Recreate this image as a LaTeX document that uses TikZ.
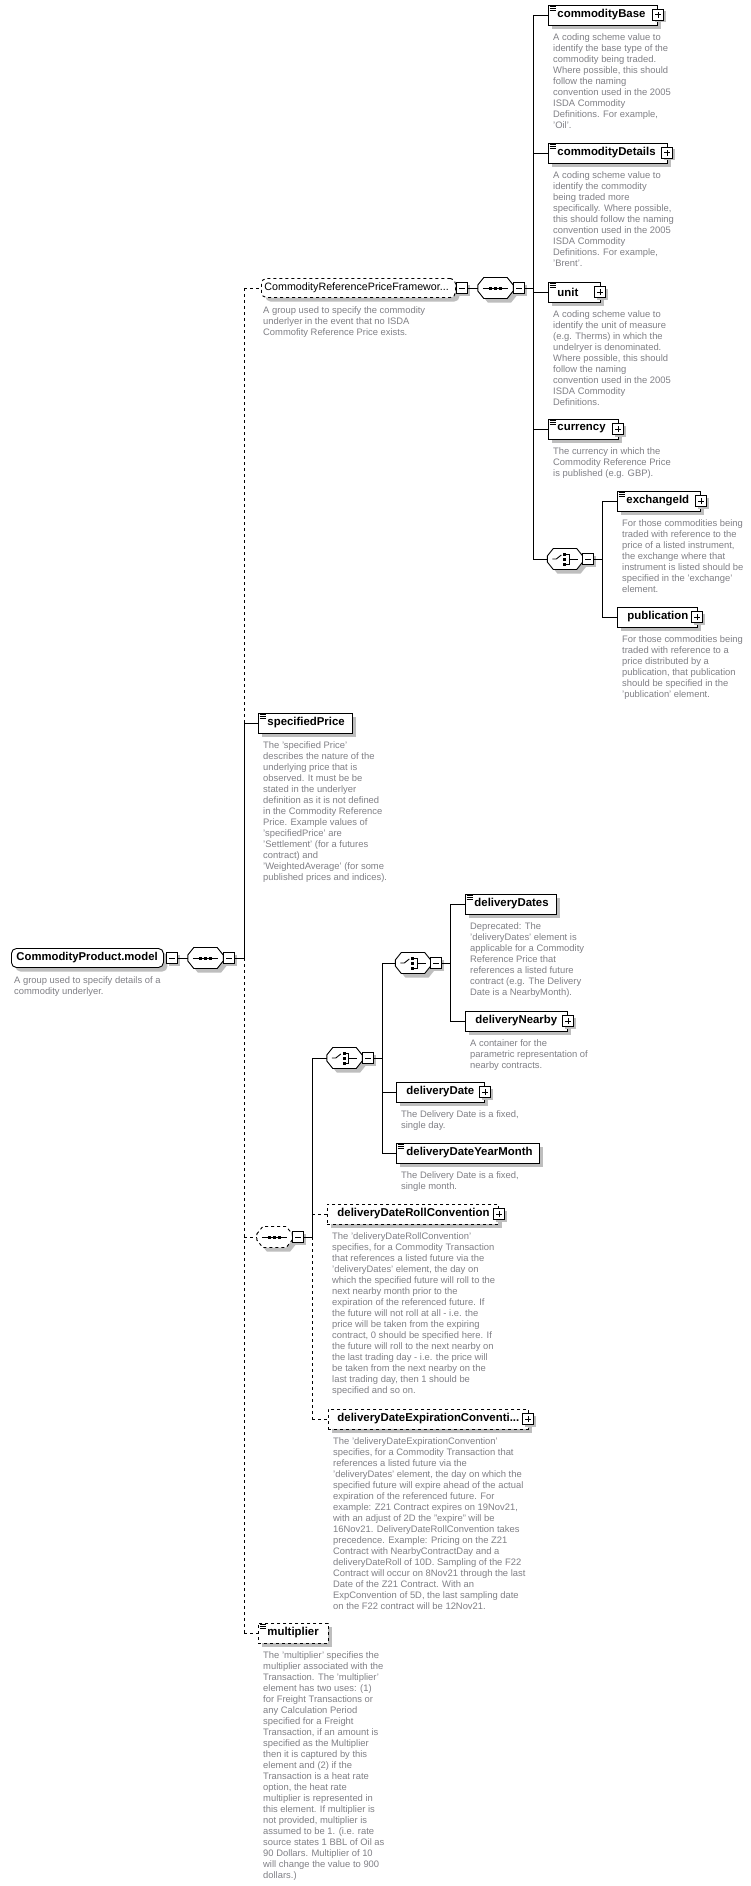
\documentclass[tikz,border=0pt]{standalone}
\usepackage{fontspec}
\setmainfont{Liberation Sans}
\usetikzlibrary{shadows}
\definecolor{desccol}{RGB}{128,128,134}
\definecolor{shadowc}{RGB}{190,190,190}
\newcommand\octdraw[2]{%
  \fill[shadowc] ([xshift=4pt,yshift=-1pt]#1.west) -- ([xshift=10pt,yshift=6.5pt]#1.west) -- ([xshift=-2pt,yshift=6.5pt]#1.east) -- ([xshift=4pt,yshift=-1pt]#1.east) -- ([xshift=4pt,yshift=-7pt]#1.east) -- ([xshift=-2pt,yshift=-14.5pt]#1.east) -- ([xshift=10pt,yshift=-14.5pt]#1.west) -- ([xshift=4pt,yshift=-7pt]#1.west) -- cycle;
  \draw[line width=0.9pt, fill=white, #2] ([yshift=3pt]#1.west) -- ([xshift=6pt,yshift=10.5pt]#1.west) -- ([xshift=-6pt,yshift=10.5pt]#1.east) -- ([yshift=3pt]#1.east) -- ([yshift=-3pt]#1.east) -- ([xshift=-6pt,yshift=-10.5pt]#1.east) -- ([xshift=6pt,yshift=-10.5pt]#1.west) -- ([yshift=-3pt]#1.west) -- cycle;}
\newcommand\seqicon[1]{%
  \draw[line width=0.9pt] ([xshift=5pt]#1.west) -- ([xshift=-5pt]#1.east);
  \foreach \dx in {-5,0,5} \fill ([xshift=\dx pt-1.5pt, yshift=-1.5pt]#1.center) rectangle ++(3pt,3pt);}
\newcommand\choiceicon[1]{%
  \draw[line width=0.9pt] ([xshift=5pt]#1.west) -- ++(4pt,0pt) -- ++(5pt,4pt);
  \foreach \dy in {-5,0,5} \fill ([xshift=16pt,yshift=\dy pt-1.5pt]#1.west) rectangle ++(3pt,3pt);
  \draw[line width=0.9pt] ([xshift=19pt,yshift=5pt]#1.west) -- ++(3pt,0pt) -- ++(0pt,-10pt) -- ++(-3pt,0pt);
  \draw[line width=0.9pt] ([xshift=22pt]#1.west) -- ([xshift=-5pt]#1.east);}
\newcommand\docicon[1]{%
  \foreach \dy in {1.5,3.5,5.5} \draw[line width=0.7pt] ([xshift=1.5pt,yshift=-\dy pt]#1.north west) -- ++(6pt,0pt);}
\tikzset{
  shd/.style={drop shadow={shadow xshift=4pt,shadow yshift=-4pt,fill=shadowc,opacity=1}},
  bshd/.style={drop shadow={shadow xshift=2pt,shadow yshift=-2pt,fill=shadowc,opacity=1}},
  elem/.style={draw, fill=white, line width=0.9pt, shd, anchor=west, minimum height=20pt,
    inner xsep=0pt, inner ysep=0pt, align=left, text width=#1,
    font=\fontsize{11.4}{13}\selectfont\bfseries},
  optelem/.style={elem=#1, dashed},
  grp/.style={draw, fill=white, line width=0.9pt, shd, anchor=west, minimum height=19pt,
    rounded corners=5pt, inner xsep=0pt, inner ysep=0pt, align=left, text width=#1,
    font=\fontsize{11.3}{13}\selectfont\bfseries},
  optgrp/.style={grp=#1, dashed, font=\fontsize{10.7}{13}\selectfont},
  octbox/.style={minimum width=35pt, minimum height=21pt, inner sep=0pt},
  btn/.style={draw, fill=white, line width=0.9pt, bshd, minimum size=11pt, inner sep=0pt},
  btnminus/.style={btn, path picture={\draw[line width=1pt]
    ([xshift=2.5pt]path picture bounding box.west) -- ([xshift=-2.5pt]path picture bounding box.east);}},
  btnplus/.style={btn, path picture={\draw[line width=1pt]
    ([xshift=2.5pt]path picture bounding box.west) -- ([xshift=-2.5pt]path picture bounding box.east)
    ([yshift=2.5pt]path picture bounding box.south) -- ([yshift=-2.5pt]path picture bounding box.north);}},
  desc/.style={anchor=north west, inner sep=0pt, align=left, text=desccol,
    font=\fontsize{9.4}{11}\selectfont, execute at begin node={\rule{0pt}{8pt}}},
  conn/.style={line width=0.9pt},
  optconn/.style={line width=0.9pt, dashed}
}
\begin{document}
\begin{tikzpicture}[x=1pt,y=-1pt]
\useasboundingbox[fill=white] (0,0) rectangle (750,1886);

% ---------- root group ----------
\node[grp=152pt] (gModel) at (11,958) {\hspace*{5pt}CommodityProduct.model};
\node[btnminus] (mModel) at (172,958) {};
\node[octbox] (sModel) at (205.5,958) {};
\octdraw{sModel}{solid}
\seqicon{sModel}
\node[btnminus] (mSModel) at (229,958) {};
\node[desc] (dModel) at (14,976.5) {A group used to specify details of a\\commodity underlyer.};

% ---------- CommodityReferencePriceFramework ----------
\node[optgrp=194pt] (gCRPF) at (261,288) {\hspace*{3pt}CommodityReferencePriceFramewor...};
\node[btnminus] (mCRPF) at (462,288) {};
\node[octbox] (sCRPF) at (495.5,288) {};
\octdraw{sCRPF}{solid}
\seqicon{sCRPF}
\node[btnminus] (mSCRPF) at (519,288) {};
\node[desc] (dCRPF) at (263,306.5) {A group used to specify the commodity\\underlyer in the event that no ISDA\\Commofity Reference Price exists.};

\node[elem=109pt] (eCB) at (548,15) {\hspace*{9pt}commodityBase};
\docicon{eCB}
\node[btnplus] (pCB) at (658,15) {};
\node[desc] (dCB) at (553,33.5) {A coding scheme value to\\identify the base type of the\\commodity being traded.\\Where possible, this should\\follow the naming\\convention used in the 2005\\ISDA Commodity\\Definitions. For example,\\'Oil'.};

\node[elem=119pt] (eCD) at (548,153) {\hspace*{9pt}commodityDetails};
\docicon{eCD}
\node[btnplus] (pCD) at (667,153) {};
\node[desc] (dCD) at (553,171.5) {A coding scheme value to\\identify the commodity\\being traded more\\specifically. Where possible,\\this should follow the naming\\convention used in the 2005\\ISDA Commodity\\Definitions. For example,\\'Brent'.};

\node[elem=52pt] (eUnit) at (548,292) {\hspace*{9pt}unit};
\docicon{eUnit}
\node[btnplus] (pUnit) at (600,292) {};
\node[desc] (dUnit) at (553,310.5) {A coding scheme value to\\identify the unit of measure\\(e.g. Therms) in which the\\undelryer is denominated.\\Where possible, this should\\follow the naming\\convention used in the 2005\\ISDA Commodity\\Definitions.};

\node[elem=70pt] (eCur) at (548,429) {\hspace*{9pt}currency};
\docicon{eCur}
\node[btnplus] (pCur) at (618,429) {};
\node[desc] (dCur) at (553,447.5) {The currency in which the\\Commodity Reference Price\\is published (e.g. GBP).};

\node[octbox] (cCRPF) at (565,559) {};
\octdraw{cCRPF}{solid}
\choiceicon{cCRPF}
\node[btnminus] (mCCRPF) at (588,559) {};

\node[elem=83pt] (eEx) at (617,501) {\hspace*{9pt}exchangeId};
\docicon{eEx}
\node[btnplus] (pEx) at (701,501) {};
\node[desc] (dEx) at (622,519.5) {For those commodities being\\traded with reference to the\\price of a listed instrument,\\the exchange where that\\instrument is listed should be\\specified in the 'exchange'\\element.};

\node[elem=80pt] (ePub) at (617,617) {\hspace*{10pt}publication};
\node[btnplus] (pPub) at (697,617) {};
\node[desc] (dPub) at (622,635.5) {For those commodities being\\traded with reference to a\\price distributed by a\\publication, that publication\\should be specified in the\\'publication' element.};

% ---------- specifiedPrice ----------
\node[elem=94pt] (eSP) at (258,723) {\hspace*{9pt}specifiedPrice};
\docicon{eSP}
\node[desc] (dSP) at (263,741.5) {The 'specified Price'\\describes the nature of the\\underlying price that is\\observed. It must be be\\stated in the underlyer\\definition as it is not defined\\in the Commodity Reference\\Price. Example values of\\'specifiedPrice' are\\'Settlement' (for a futures\\contract) and\\'WeightedAverage' (for some\\published prices and indices).};

% ---------- optional sequence ----------
\node[octbox] (sOpt) at (274.5,1237) {};
\octdraw{sOpt}{dashed}
\seqicon{sOpt}
\node[btnminus] (mSOpt) at (298,1237) {};

\node[octbox] (cOpt) at (344.5,1058) {};
\octdraw{cOpt}{solid}
\choiceicon{cOpt}
\node[btnminus] (mCOpt) at (368,1058) {};

\node[octbox] (cOpt2) at (413,963) {};
\octdraw{cOpt2}{solid}
\choiceicon{cOpt2}
\node[btnminus] (mCOpt2) at (436,963) {};

\node[elem=91pt] (eDDs) at (465,904) {\hspace*{9pt}deliveryDates};
\docicon{eDDs}
\node[desc] (dDDs) at (470,922.5) {Deprecated: The\\'deliveryDates' element is\\applicable for a Commodity\\Reference Price that\\references a listed future\\contract (e.g. The Delivery\\Date is a NearbyMonth).};

\node[elem=102pt] (eDN) at (465,1021) {\hspace*{10pt}deliveryNearby};
\node[btnplus] (pDN) at (568,1021) {};
\node[desc] (dDN) at (470,1039.5) {A container for the\\parametric representation of\\nearby contracts.};

\node[elem=88pt] (eDD) at (396,1092) {\hspace*{10pt}deliveryDate};
\node[btnplus] (pDD) at (485,1092) {};
\node[desc] (dDD) at (401,1110.5) {The Delivery Date is a fixed,\\single day.};

\node[elem=143pt] (eDYM) at (396,1153) {\hspace*{10pt}deliveryDateYearMonth};
\docicon{eDYM}
\node[desc] (dDYM) at (401,1171.5) {The Delivery Date is a fixed,\\single month.};

\node[optelem=171pt] (eDRC) at (327,1214) {\hspace*{10pt}deliveryDateRollConvention};
\node[btnplus] (pDRC) at (499,1214) {};
\node[desc] (dDRC) at (332,1232.5) {The 'deliveryDateRollConvention'\\specifies, for a Commodity Transaction\\that references a listed future via the\\'deliveryDates' element, the day on\\which the specified future will roll to the\\next nearby month prior to the\\expiration of the referenced future. If\\the future will not roll at all - i.e. the\\price will be taken from the expiring\\contract, 0 should be specified here. If\\the future will roll to the next nearby on\\the last trading day - i.e. the price will\\be taken from the next nearby on the\\last trading day, then 1 should be\\specified and so on.};

\node[optelem=200pt] (eDEC) at (328,1419) {\hspace*{9pt}deliveryDateExpirationConventi...};
\node[btnplus] (pDEC) at (528,1419) {};
\node[desc] (dDEC) at (333,1437.5) {The 'deliveryDateExpirationConvention'\\specifies, for a Commodity Transaction that\\references a listed future via the\\'deliveryDates' element, the day on which the\\specified future will expire ahead of the actual\\expiration of the referenced future. For\\example: Z21 Contract expires on 19Nov21,\\with an adjust of 2D the "expire" will be\\16Nov21. DeliveryDateRollConvention takes\\precedence. Example: Pricing on the Z21\\Contract with NearbyContractDay and a\\deliveryDateRoll of 10D. Sampling of the F22\\Contract will occur on 8Nov21 through the last\\Date of the Z21 Contract. With an\\ExpConvention of 5D, the last sampling date\\on the F22 contract will be 12Nov21.};

% ---------- multiplier ----------
\node[optelem=70pt] (eMul) at (258,1633) {\hspace*{9pt}multiplier};
\docicon{eMul}
\node[desc] (dMul) at (263,1651.5) {The 'multiplier' specifies the\\multiplier associated with the\\Transaction. The 'multiplier'\\element has two uses: (1)\\for Freight Transactions or\\any Calculation Period\\specified for a Freight\\Transaction, if an amount is\\specified as the Multiplier\\then it is captured by this\\element and (2) if the\\Transaction is a heat rate\\option, the heat rate\\multiplier is represented in\\this element. If multiplier is\\not provided, multiplier is\\assumed to be 1. (i.e. rate\\source states 1 BBL of Oil as\\90 Dollars. Multiplier of 10\\will change the value to 900\\dollars.)};

% ---------- spine coordinates ----------
\coordinate (a1) at (244,288);
\coordinate (a2) at (244,723);
\coordinate (a3) at (244,958);
\coordinate (a4) at (244,1237);
\coordinate (a5) at (244,1633);
\coordinate (b1) at (533,15);
\coordinate (b2) at (533,153);
\coordinate (b3) at (533,288);
\coordinate (b3u) at (533,292);
\coordinate (b4) at (533,429);
\coordinate (b5) at (533,559);
\coordinate (c1) at (602,501);
\coordinate (c2) at (602,559);
\coordinate (c3) at (602,617);
\coordinate (d1) at (312,1058);
\coordinate (d2) at (312,1214);
\coordinate (d3) at (312,1237);
\coordinate (d4) at (312,1419);
\coordinate (e1) at (382,963);
\coordinate (e2) at (382,1058);
\coordinate (e3) at (382,1092);
\coordinate (e4) at (382,1153);
\coordinate (f1) at (450,904);
\coordinate (f2) at (450,963);
\coordinate (f3) at (450,1021);

% ---------- connectors ----------
\draw[conn] (mModel.east) -- (sModel.west);
\draw[conn] (mSModel.east) -- (a3);
\draw[optconn] (a1) -- (a2);
\draw[conn] (a2) -- (a3);
\draw[optconn] (a3) -- (a5);
\draw[optconn] (a1) -- (gCRPF.west);
\draw[conn] (a2) -- (eSP.west);
\draw[optconn] (a4) -- (sOpt.west);
\draw[optconn] (a5) -- (eMul.west);

\draw[conn] (mCRPF.east) -- (sCRPF.west);
\draw[conn] (mSCRPF.east) -- (b3);
\draw[conn] (b1) -- (b5);
\draw[conn] (b1) -- (eCB.west);
\draw[conn] (b2) -- (eCD.west);
\draw[conn] (b3u) -- (eUnit.west);
\draw[conn] (b4) -- (eCur.west);
\draw[conn] (b5) -- (cCRPF.west);
\draw[conn] (mCCRPF.east) -- (c2);
\draw[conn] (c1) -- (c3);
\draw[conn] (c1) -- (eEx.west);
\draw[conn] (c3) -- (ePub.west);

\draw[conn] (mSOpt.east) -- (d3);
\draw[conn] (d1) -- (d3);
\draw[optconn] (d3) -- (d4);
\draw[conn] (d1) -- (cOpt.west);
\draw[optconn] (d2) -- (eDRC.west);
\draw[optconn] (d4) -- (eDEC.west);

\draw[conn] (mCOpt.east) -- (e2);
\draw[conn] (e1) -- (e4);
\draw[conn] (e1) -- (cOpt2.west);
\draw[conn] (e3) -- (eDD.west);
\draw[conn] (e4) -- (eDYM.west);

\draw[conn] (mCOpt2.east) -- (f2);
\draw[conn] (f1) -- (f3);
\draw[conn] (f1) -- (eDDs.west);
\draw[conn] (f3) -- (eDN.west);
\end{tikzpicture}
\end{document}
